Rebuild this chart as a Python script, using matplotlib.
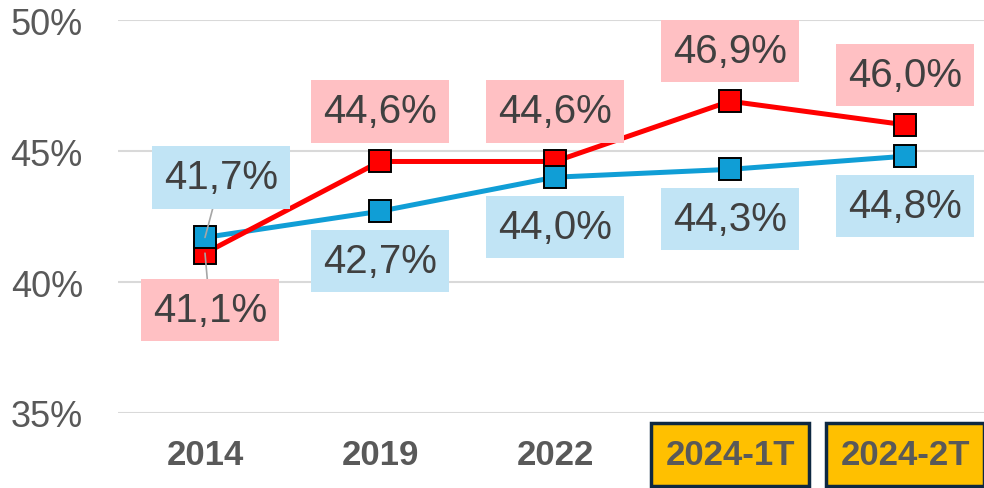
import matplotlib.pyplot as plt

plt.rcParams['font.family'] = ['Liberation Sans', 'DejaVu Sans']

# data
categories = ["2014", "2019", "2022", "2024-1T", "2024-2T"]
red_vals = [41.1, 44.6, 44.6, 46.9, 46.0]
blue_vals = [41.7, 42.7, 44.0, 44.3, 44.8]
yticks = [35, 40, 45, 50]

RED = "#FF0000"
BLUE = "#109ED6"
PINK_BOX = "#FFC0C3"
BLUE_BOX = "#C1E4F5"
TXT = "#404040"

fig = plt.figure(figsize=(9.84, 4.89), dpi=100)
ax = fig.add_axes([117.5 / 984, 1 - 414 / 489, 875 / 984, (414 - 21) / 489])

x = list(range(len(categories)))

# lines first, then markers (blue markers sit on top of red)
ax.plot(x, blue_vals, color=BLUE, lw=3.6, zorder=3)
ax.plot(x, red_vals, color=RED, lw=3.6, zorder=4)
ax.plot(x, red_vals, ls="none", marker="s", ms=16, mfc=RED, mec="black", mew=1.4, zorder=5)
ax.plot(x, blue_vals, ls="none", marker="s", ms=16, mfc=BLUE, mec="black", mew=1.4, zorder=6)

ax.set_xlim(-0.5, 4.5)
ax.set_ylim(35, 50)
ax.set_yticks(yticks)
ax.set_yticklabels([f"{v}%" for v in yticks])
ax.yaxis.grid(True, color="#D9D9D9", lw=1.5)
ax.set_axisbelow(True)
for s in ax.spines.values():
    s.set_visible(False)
ax.tick_params(axis="y", length=0, pad=25, labelsize=26, labelcolor="#595959")
ax.tick_params(axis="x", length=0, pad=18, labelsize=25, labelcolor="#595959")
ax.set_xticks(x)
ax.set_xticklabels(categories, fontweight="bold")
for lbl in ax.get_xticklabels()[3:]:
    lbl.set_bbox(dict(boxstyle="square,pad=0.42", fc="#FFC000", ec="#0E2841", lw=2.5))


def fmt(v):
    return f"{v:.1f}%".replace(".", ",")


# data labels: red above, blue below, except 2014 (swapped, with leader lines)
for i, v in enumerate(red_vals):
    off = (5, -57) if i == 0 else (0, 50)
    ax.annotate(fmt(v), (i, v), xytext=off, textcoords="offset pixels",
                ha="center", va="center", fontsize=29, color=TXT, zorder=7,
                bbox=dict(boxstyle="square,pad=0.3", fc=PINK_BOX, ec="none"),
                arrowprops=dict(arrowstyle="-", color="#A6A6A6", lw=1.2,
                                shrinkA=0, shrinkB=0) if i == 0 else None)
for i, v in enumerate(blue_vals):
    off = (16, 60) if i == 0 else (0, -50)
    ax.annotate(fmt(v), (i, v), xytext=off, textcoords="offset pixels",
                ha="center", va="center", fontsize=29, color=TXT, zorder=7,
                bbox=dict(boxstyle="square,pad=0.3", fc=BLUE_BOX, ec="none"),
                arrowprops=dict(arrowstyle="-", color="#A6A6A6", lw=1.2,
                                shrinkA=0, shrinkB=0) if i == 0 else None)

fig.savefig("out.png", dpi=100)
